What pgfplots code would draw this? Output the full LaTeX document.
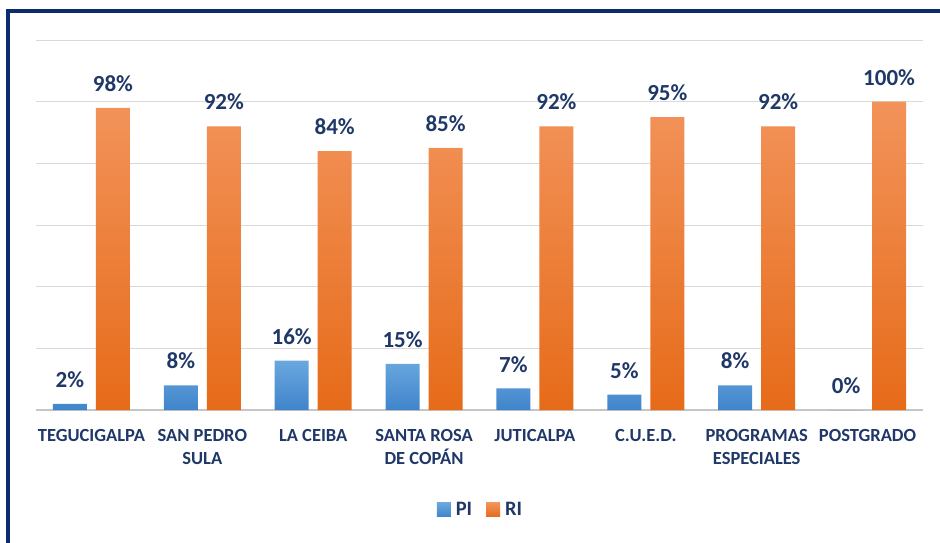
\documentclass[border=0pt]{standalone}
\usepackage{pgfplots}
\pgfplotsset{compat=1.18}
\usepackage{fontspec}
\setmainfont{Carlito}
\definecolor{navy}{HTML}{1F3868}
\definecolor{frame}{HTML}{0C2C6E}
\definecolor{bluetop}{HTML}{6AA7DE}
\definecolor{bluebot}{HTML}{3F84CB}
\definecolor{orgtop}{HTML}{F2935A}
\definecolor{orgbot}{HTML}{E66B19}
\begin{document}
\begin{tikzpicture}[x=1pt,y=1pt]
\useasboundingbox (0,0) rectangle (940,542);
\draw[frame, line width=3.5pt] (8,-2) -- (8,531) -- (942,531);
\begin{axis}[
  at={(36pt,132pt)}, anchor=south west,
  width=887pt, height=370pt, scale only axis,
  xmin=-0.5, xmax=7.5, ymin=0, ymax=120,
  ybar=9pt, bar width=34pt,
  axis line style={draw=none},
  xtick={0,...,7}, major tick length=0pt,
  xticklabels={TEGUCIGALPA, SAN PEDRO\\SULA, LA CEIBA, SANTA ROSA\\DE COPÁN, JUTICALPA, C.U.E.D., PROGRAMAS\\ESPECIALES, POSTGRADO},
  xticklabel style={align=center, font=\fontsize{18.5}{23}\selectfont\bfseries, text=navy, inner sep=0pt, yshift=-19pt},
  ytick={0,20,...,120}, yticklabels={},
  ymajorgrids, grid style={draw=gray!30, line width=1pt},
  extra y ticks={0}, extra y tick labels={}, extra y tick style={grid style={draw=gray!45, line width=1.5pt}},
  clip=false,
  nodes near coords={\pgfmathprintnumber[assume math mode=true]{\pgfplotspointmeta}\%},
  every node near coord/.append style={font=\fontsize{23}{27}\selectfont\bfseries, text=navy, inner sep=0pt, anchor=south, yshift=16pt},
  legend style={at={(0.5,-0.27)}, anchor=center, legend columns=2, draw=none, fill=none,
    font=\fontsize{20.5}{24}\selectfont\bfseries, text=navy,
    /tikz/every odd column/.append style={column sep=5pt},
    /tikz/every even column/.append style={column sep=14pt},
    nodes={inner sep=0pt}},
  legend image code/.code={\fill[#1] (0pt,-7pt) rectangle (14pt,7pt);},
]
\addplot[draw=none, top color=bluetop, bottom color=bluebot] coordinates {(0,2) (1,8) (2,16) (3,15) (4,7) (5,5) (6,8) (7,0)};
\addplot[draw=none, top color=orgtop, bottom color=orgbot] coordinates {(0,98) (1,92) (2,84) (3,85) (4,92) (5,95) (6,92) (7,100)};
\legend{PI, RI}
\end{axis}
\end{tikzpicture}
\end{document}
